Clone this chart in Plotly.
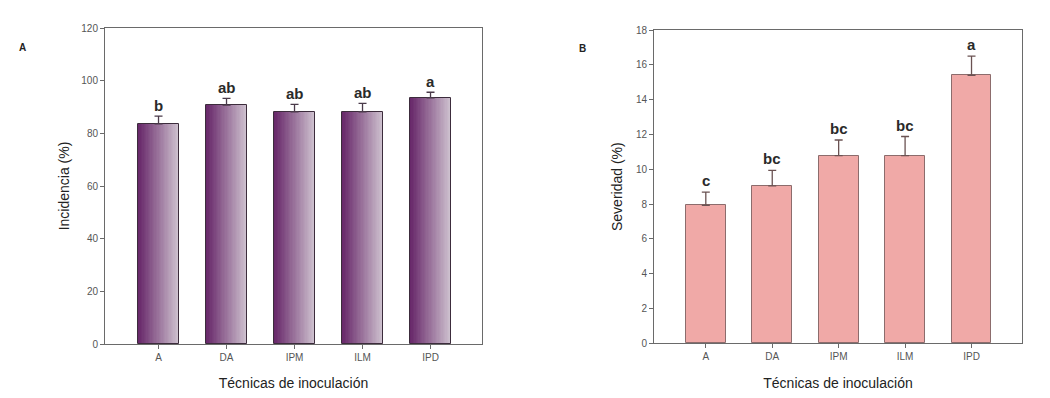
import plotly.graph_objects as go

# ---------------- data ----------------
categories = ["A", "DA", "IPM", "ILM", "IPD"]
incidencia = [83.6, 90.7, 88.2, 88.2, 93.5]
incidencia_err = [2.9, 2.6, 2.8, 3.2, 2.1]
incidencia_letters = ["b", "ab", "ab", "ab", "a"]

severidad = [7.93, 9.04, 10.78, 10.78, 15.4]
severidad_err = [0.75, 0.9, 0.9, 1.1, 1.1]
severidad_letters = ["c", "bc", "bc", "bc", "a"]

x_title = "Técnicas de inoculación"
y_title_a = "Incidencia (%)"
y_title_b = "Severidad (%)"

# ---------------- style ----------------
FONT = "Liberation Sans, Arial, sans-serif"
AXIS_COLOR = "#6a6a6a"
BAR_W = 0.6
N_SLICES = 30
C_LEFT = (104, 40, 106)
C_RIGHT = (205, 192, 206)
W, H = 1050, 398
OFF = 8  # default page body margin


def px(xp):
    return (xp - OFF) / W


def py(yp):
    return 1 - (yp - OFF) / H


fig = go.Figure()

# gradient bars for panel A, built from slices of the same data bars
w = BAR_W / N_SLICES
for i in range(N_SLICES):
    t = i / (N_SLICES - 1)
    col = tuple(round(C_LEFT[k] + (C_RIGHT[k] - C_LEFT[k]) * t) for k in range(3))
    off = -BAR_W / 2 + i * w
    width = min(w * 1.6, BAR_W / 2 - off)
    fig.add_trace(go.Bar(
        x=categories, y=incidencia, xaxis="x", yaxis="y",
        width=width, offset=off,
        marker=dict(color="rgb(%d,%d,%d)" % col, line=dict(width=0)),
        showlegend=False, hoverinfo="skip",
    ))
# outline + error bars panel A
fig.add_trace(go.Bar(
    x=categories, y=incidencia, xaxis="x", yaxis="y",
    width=BAR_W, offset=-BAR_W / 2,
    marker=dict(color="rgba(0,0,0,0)", line=dict(color="#3c2c3c", width=1)),
    error_y=dict(type="data", array=incidencia_err, arrayminus=[0] * 5,
                 symmetric=False, color="#4a3a4a", thickness=1.3, width=4),
    showlegend=False,
))

# panel B
fig.add_trace(go.Bar(
    x=categories, y=severidad, xaxis="x2", yaxis="y2",
    width=BAR_W, offset=-BAR_W / 2,
    marker=dict(color="#f0a9a7", line=dict(color="#8c6c6c", width=1)),
    error_y=dict(type="data", array=severidad_err, arrayminus=[0] * 5,
                 symmetric=False, color="#6a5252", thickness=1.3, width=4),
    showlegend=False,
))

annotations = []
for c, v, e, l in zip(categories, incidencia, incidencia_err, incidencia_letters):
    annotations.append(dict(x=c, y=v + e, xref="x", yref="y", text="<b>%s</b>" % l,
                            showarrow=False, yanchor="bottom", yshift=0,
                            font=dict(family=FONT, size=15, color="#2a2a2a")))
for c, v, e, l in zip(categories, severidad, severidad_err, severidad_letters):
    annotations.append(dict(x=c, y=v + e, xref="x2", yref="y2", text="<b>%s</b>" % l,
                            showarrow=False, yanchor="bottom", yshift=1,
                            font=dict(family=FONT, size=15, color="#2a2a2a")))
annotations.append(dict(x=px(22), y=py(47), xref="paper", yref="paper", text="<b>A</b>",
                        showarrow=False, xanchor="center", yanchor="middle",
                        font=dict(family=FONT, size=10, color="#222")))
annotations.append(dict(x=px(582), y=py(48), xref="paper", yref="paper", text="<b>B</b>",
                        showarrow=False, xanchor="center", yanchor="middle",
                        font=dict(family=FONT, size=10, color="#222")))

axis_common = dict(showline=True, linecolor=AXIS_COLOR, linewidth=1, mirror=True,
                   ticks="outside", ticklen=4, tickcolor=AXIS_COLOR, showgrid=False,
                   zeroline=False, automargin=False,
                   tickfont=dict(family=FONT, size=10, color="#555"))
title_font = dict(family=FONT, size=14, color="#222")

fig.update_layout(
    width=W, height=H,
    margin=dict(l=0, r=0, t=0, b=0),
    paper_bgcolor="white", plot_bgcolor="white",
    barmode="overlay", bargap=0,
    xaxis=dict(domain=[px(105), px(482)], anchor="y", type="category", range=[-0.787, 4.757],
               title=dict(text=x_title, font=title_font, standoff=16),
               **axis_common),
    yaxis=dict(domain=[py(344), py(28)], anchor="x", range=[0, 120], dtick=20,
               title=dict(text=y_title_a, font=title_font, standoff=8),
               **axis_common),
    xaxis2=dict(domain=[px(654), px(1022)], anchor="y2", type="category", range=[-0.78, 4.76],
                title=dict(text=x_title, font=title_font, standoff=16),
                **axis_common),
    yaxis2=dict(domain=[py(343.3), py(30)], anchor="x2", range=[0, 18], dtick=2,
                title=dict(text=y_title_b, font=title_font, standoff=9),
                **axis_common),
    annotations=annotations,
)

fig.write_html("out.html")
